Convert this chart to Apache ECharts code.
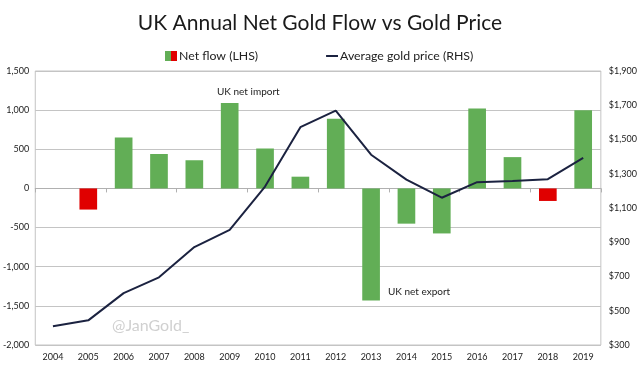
<!DOCTYPE html>
<html><head><meta charset="utf-8">
<script src="https://cdn.jsdelivr.net/npm/echarts@6/dist/echarts.min.js"></script>
<style>html,body{margin:0;padding:0;background:#fff}#c{width:640px;height:380px}</style>
</head><body><div id="c"></div>
<script>
const years = ['2004','2005','2006','2007','2008','2009','2010','2011','2012','2013','2014','2015','2016','2017','2018','2019'];
const netFlow = [null, -270, 650, 440, 360, 1090, 510, 150, 890, -1430, -450, -575, 1020, 400, -160, 1000];
const barColors = ['#62ae56','#e00000','#62ae56','#62ae56','#62ae56','#62ae56','#62ae56','#62ae56','#62ae56','#62ae56','#62ae56','#62ae56','#62ae56','#62ae56','#e00000','#62ae56'];
const goldPrice = [409, 444, 603, 695, 872, 972, 1225, 1572, 1669, 1411, 1266, 1160, 1251, 1257, 1268, 1393];
const leftTicks = [-2000, 1500, 500];
const rightTicks = [300, 1900, 200];

const font = 'Lato, "Noto Sans", sans-serif';
const svgUri = s => 'image://data:image/svg+xml;utf8,' + encodeURIComponent(s);
const barIcon = svgUri('<svg xmlns="http://www.w3.org/2000/svg" width="12" height="10"><rect x="0" y="0" width="6" height="10" fill="#62ae56"/><rect x="6" y="0" width="6" height="10" fill="#e00000"/></svg>');
const lineIcon = svgUri('<svg xmlns="http://www.w3.org/2000/svg" width="12" height="10"><rect x="0" y="4" width="12" height="2" fill="#1b2240"/></svg>');

const chart = echarts.init(document.getElementById('c'), null, {renderer: 'canvas'});
chart.setOption({
  animation: false,
  backgroundColor: '#fff',
  textStyle: {fontFamily: font},
  title: {
    text: 'UK Annual Net Gold Flow vs Gold Price',
    left: 'center', top: 8,
    textStyle: {fontFamily: font, fontSize: 21, fontWeight: 'normal', color: '#1a1a1a'}
  },
  legend: {
    top: 45, left: 160, itemGap: 68,
    textStyle: {fontFamily: font, fontSize: 12.3, color: '#222', padding: [0, 0, 0, -3]},
    itemWidth: 12, itemHeight: 10,
    data: [
      {name: 'Net flow (LHS)', icon: barIcon},
      {name: 'Average gold price (RHS)', icon: lineIcon}
    ]
  },
  grid: {left: 30, right: 32, top: 71, bottom: 35, show: true, borderColor: '#c4c4c4', borderWidth: 1},
  xAxis: [
    {type: 'category', data: years, boundaryGap: true, position: 'bottom',
     axisLine: {show: false}, axisTick: {show: false},
     axisLabel: {fontSize: 9, color: '#222', margin: 8}},
    {type: 'category', data: years, boundaryGap: true, gridIndex: 0,
     axisLine: {show: true, onZero: true, onZeroAxisIndex: 0, lineStyle: {color: '#b0b0b0', width: 1}},
     axisTick: {show: true, inside: false, length: 4, lineStyle: {color: '#b0b0b0'}},
     axisLabel: {show: false}, position: 'bottom'}
  ],
  yAxis: [
    {type: 'value', min: leftTicks[0], max: leftTicks[1], interval: leftTicks[2],
     axisLine: {show: false}, axisTick: {show: false},
     splitLine: {lineStyle: {color: '#c4c4c4', width: 1}},
     axisLabel: {fontSize: 9, color: '#222', margin: 6,
       formatter: v => v.toLocaleString('en-US')}},
    {type: 'value', min: rightTicks[0], max: rightTicks[1], interval: rightTicks[2], position: 'right',
     axisLine: {show: false}, axisTick: {show: false}, splitLine: {show: false},
     axisLabel: {fontSize: 9, color: '#222', margin: 8,
       formatter: v => '$' + v.toLocaleString('en-US')}}
  ],
  series: [
    {name: 'Net flow (LHS)', type: 'bar', xAxisIndex: 0, yAxisIndex: 0, barWidth: '50%',
     data: netFlow.map((v, i) => ({value: v, itemStyle: {color: barColors[i]}})),
     itemStyle: {color: '#62ae56'}},
    {name: 'Average gold price (RHS)', type: 'line', xAxisIndex: 0, yAxisIndex: 1,
     data: goldPrice, symbol: 'none', lineStyle: {color: '#1b2240', width: 2}, itemStyle: {color: '#1b2240'}}
  ],
  graphic: [
    {type: 'text', left: 217, top: 87, style: {text: 'UK net import', font: '10px ' + font, fill: '#222'}},
    {type: 'text', left: 388, top: 287, style: {text: 'UK net export', font: '10px ' + font, fill: '#222'}},
    {type: 'text', left: 112, top: 318, style: {text: '@JanGold_', font: '16px ' + font, fill: '#d0d0d0'}}
  ]
});
</script></body></html>
